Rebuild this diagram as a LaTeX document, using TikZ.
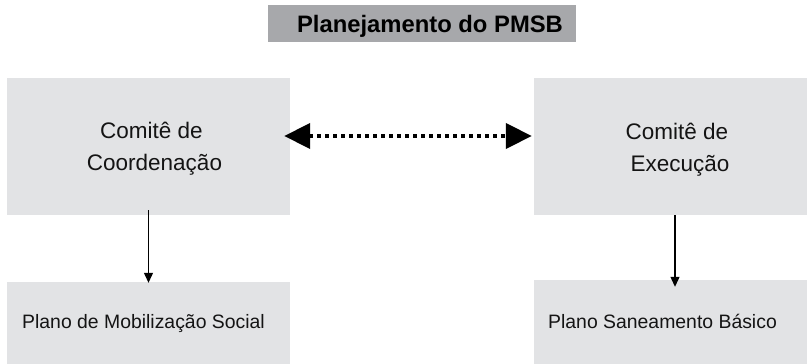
\documentclass[tikz,border=0pt]{standalone}
\usepackage{fontspec}
\setmainfont{Liberation Sans}
\usetikzlibrary{arrows.meta}
\definecolor{boxgray}{RGB}{226,227,229}
\definecolor{titlegray}{RGB}{167,168,171}
\tikzset{
  box/.style={fill=boxgray, draw=none, inner sep=0pt},
  txtbig/.style={anchor=base, inner sep=0pt, font=\fontsize{22.5}{27}\selectfont, text=black!92},
  txtsmall/.style={anchor=base west, inner sep=0pt, font=\fontsize{19.4}{23}\selectfont, text=black!92},
  downarrow/.style={line width=1.2pt, -{Triangle[length=10pt,width=9pt]}},
  dotarrow/.style={line width=4pt, dash pattern=on 4pt off 4pt,
    {Triangle[length=26pt,width=25pt]}-{Triangle[length=26pt,width=25pt]}}
}
\begin{document}
\begin{tikzpicture}[x=1pt,y=-1pt]
\useasboundingbox (0,0) rectangle (807,364);
% title
\node[box, fill=titlegray, minimum width=308pt, minimum height=37pt] (title) at (422,23.5) {};
\node[anchor=base, inner sep=0pt, font=\bfseries\fontsize{23.8}{28}\selectfont] (titletext) at (430,32) {Planejamento do PMSB};
% upper boxes
\node[box, minimum width=283pt, minimum height=137pt] (ul) at (148.5,146.5) {};
\node[box, minimum width=273pt, minimum height=137pt] (ur) at (670.5,146.5) {};
% lower boxes
\node[box, minimum width=283pt, minimum height=82pt] (ll) at (148.5,323) {};
\node[box, minimum width=273pt, minimum height=84pt] (lr) at (670.5,322) {};
% texts
\node[txtbig] (ul1) at (151.5,138) {Comitê de};
\node[txtbig] (ul2) at (154.5,170) {Coordenação};
\node[txtbig] (ur1) at (677,139) {Comitê de};
\node[txtbig] (ur2) at (680,171) {Execução};
\node[txtsmall] (lltext) at (22,328) {Plano de Mobilização Social};
\node[txtsmall] (lrtext) at (548,328) {Plano Saneamento Básico};
% connectors
\draw[dotarrow] ([xshift=-6pt,yshift=10.5pt]ul.east) -- ([xshift=-2pt,yshift=10.5pt]ur.west);
\draw[downarrow] ([yshift=5pt]ul.south) -- ([yshift=-1pt]ll.north);
\draw[downarrow] ([xshift=4.5pt]ur.south) -- ([xshift=4.5pt,yshift=-7pt]lr.north);
\end{tikzpicture}
\end{document}
